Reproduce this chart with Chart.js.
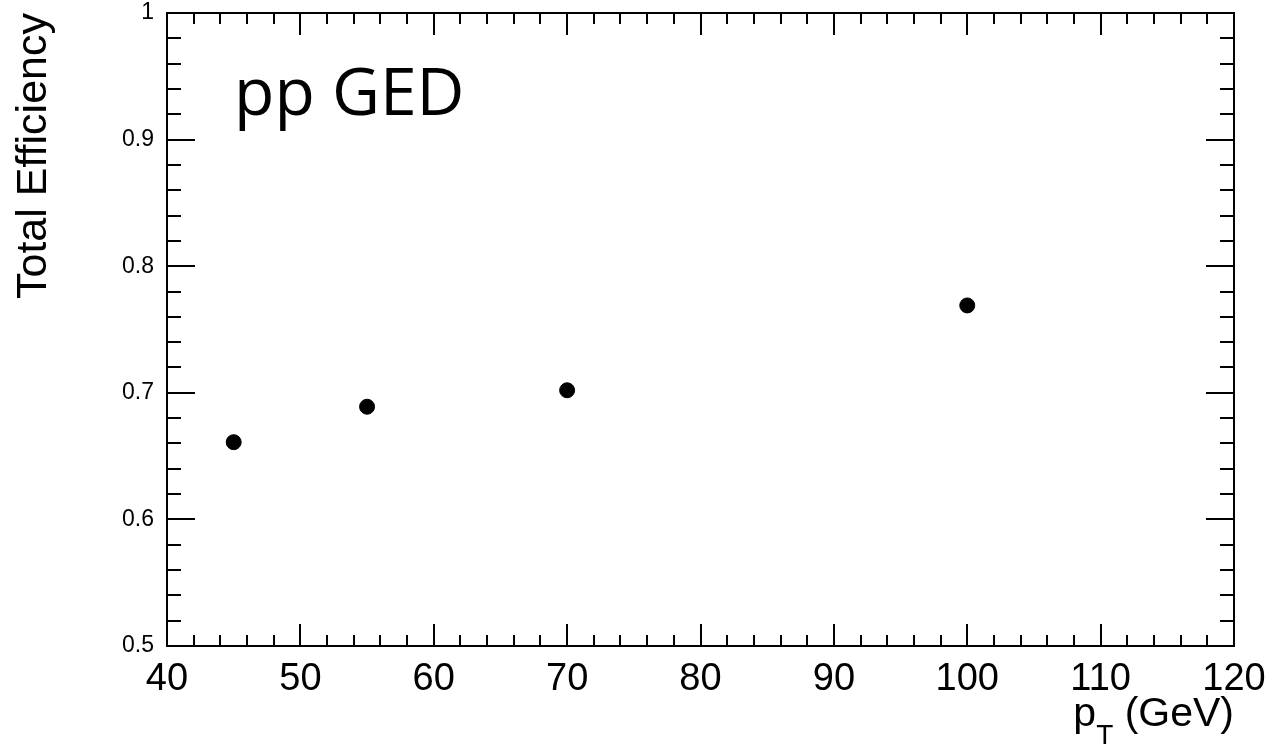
<!DOCTYPE html>
<html>
<head>
<meta charset="utf-8">
<script src="https://cdn.jsdelivr.net/npm/chart.js@4"></script>
<style>
  body { margin: 0; background: #fff; }
</style>
</head>
<body>
<canvas id="effChart" width="1274" height="746"></canvas>
<script>
// data
const ptValues = [45, 55, 70, 100];
const efficiency = [0.661, 0.689, 0.702, 0.769];

const xTicks = [40, 50, 60, 70, 80, 90, 100, 110, 120];
const yTicks = [0.5, 0.6, 0.7, 0.8, 0.9, 1];
const yTickLabels = ['0.5', '0.6', '0.7', '0.8', '0.9', '1'];

const xMinorStep = 2;
const yMinorStep = 0.02;

const axisFont = '"Liberation Sans", Arial, Helvetica, sans-serif';

// frame with ROOT-style inward ticks on all four sides
const framePlugin = {
    id: 'frame',
    afterDatasetsDraw(chart) {
        const ctx = chart.ctx;
        const a = chart.chartArea;
        const xs = chart.scales.x;
        const ys = chart.scales.y;
        ctx.save();
        ctx.strokeStyle = '#000';
        ctx.lineWidth = 2;
        ctx.strokeRect(a.left, a.top, a.right - a.left, a.bottom - a.top);

        ctx.beginPath();
        for (let v = xs.min; v <= xs.max + 1e-9; v += xMinorStep) {
            const px = Math.round(xs.getPixelForValue(v));
            const len = Math.abs(v % 10) < 1e-6 ? 22 : 11;
            ctx.moveTo(px, a.bottom);
            ctx.lineTo(px, a.bottom - len);
            ctx.moveTo(px, a.top);
            ctx.lineTo(px, a.top + len);
        }
        for (let i = 0; i <= Math.round((ys.max - ys.min) / yMinorStep); i++) {
            const v = ys.min + i * yMinorStep;
            const py = Math.round(ys.getPixelForValue(v));
            const len = i % 5 === 0 ? 28 : 14;
            ctx.moveTo(a.left, py);
            ctx.lineTo(a.left + len, py);
            ctx.moveTo(a.right, py);
            ctx.lineTo(a.right - len, py);
        }
        ctx.stroke();

        // label inside the frame
        ctx.fillStyle = '#000';
        ctx.font = '66px "Open Sans", "DejaVu Sans", sans-serif';
        ctx.textAlign = 'left';
        ctx.textBaseline = 'alphabetic';
        ctx.fillText('pp GED', 234, 115);

        // x axis title with subscript, right aligned to the frame
        const bigFont = '41px ' + axisFont;
        const subFont = '28px ' + axisFont;
        ctx.font = bigFont;
        const wP = ctx.measureText('p').width;
        const wRest = ctx.measureText(' (GeV)').width;
        ctx.font = subFont;
        const wT = ctx.measureText('T').width;
        let x = a.right - wRest - wT - wP;
        const base = 726;
        ctx.font = bigFont;
        ctx.fillText('p', x, base);
        x += wP;
        ctx.font = subFont;
        ctx.fillText('T', x, base + 18);
        x += wT;
        ctx.font = bigFont;
        ctx.fillText(' (GeV)', x, base);
        ctx.restore();
    }
};

// keep the plot frame where the reference has it
function noScalePadding(s) {
    s.paddingLeft = 0;
    s.paddingRight = 0;
    s.paddingTop = 0;
    s.paddingBottom = 0;
}

new Chart(document.getElementById('effChart'), {
    type: 'scatter',
    data: {
        datasets: [{
            label: 'pp GED',
            data: ptValues.map((v, i) => ({ x: v, y: efficiency[i] })),
            backgroundColor: '#000',
            borderColor: '#000',
            pointRadius: 7.5,
            pointHoverRadius: 7.5
        }]
    },
    options: {
        responsive: false,
        animation: false,
        layout: { padding: { left: 0, top: 13, right: 40, bottom: 0 } },
        plugins: {
            legend: { display: false },
            tooltip: { enabled: false }
        },
        scales: {
            x: {
                type: 'linear',
                position: 'bottom',
                min: 40,
                max: 120,
                grid: { display: false, drawTicks: false },
                border: { display: false },
                afterBuildTicks: s => { s.ticks = xTicks.map(v => ({ value: v })); },
                afterFit: s => { s.height = 100; noScalePadding(s); },
                ticks: {
                    color: '#000',
                    font: { family: axisFont, size: 38 },
                    padding: 11,
                    maxRotation: 0,
                    autoSkip: false,
                    callback: v => String(v)
                }
            },
            y: {
                type: 'linear',
                min: 0.5,
                max: 1,
                grid: { display: false, drawTicks: false },
                border: { display: false },
                afterBuildTicks: s => { s.ticks = yTicks.map(v => ({ value: v })); },
                afterFit: s => { s.width = 167; noScalePadding(s); },
                ticks: {
                    color: '#000',
                    font: { family: axisFont, size: 23 },
                    padding: 13,
                    autoSkip: false,
                    callback: (v, i) => yTickLabels[i]
                },
                title: {
                    display: true,
                    text: 'Total Efficiency',
                    align: 'end',
                    color: '#000',
                    font: { family: axisFont, size: 43 },
                    padding: { top: 8, bottom: 0 }
                }
            }
        }
    },
    plugins: [framePlugin]
});
</script>
</body>
</html>
